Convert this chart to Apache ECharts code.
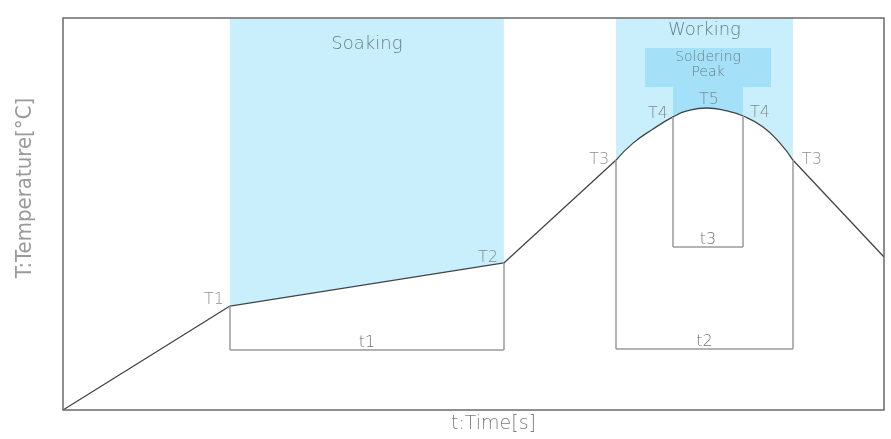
<!DOCTYPE html>
<html>
<head>
<meta charset="utf-8">
<script src="https://cdn.jsdelivr.net/npm/echarts@6/dist/echarts.min.js"></script>
<style>
  html, body { margin: 0; padding: 0; background: #fff; }
  #chart { width: 891px; height: 439px; }
</style>
</head>
<body>
<div id="chart"></div>
<script>
// reflow profile, time in s, temperature in degC (no scale shown)
const rampTime = [0, 61.0, 161.1, 202.1];
const rampTemp = [0, 66.3, 93.8, 159.4];

const peakTime = [202.1, 208.3, 215.6, 222.9, 228.0, 235.3, 242.6, 248.5, 255.8, 262.0, 266.7];
const peakTemp = [159.4, 170.2, 179.2, 186.9, 190.7, 192.6, 190.7, 187.5, 180.5, 170.2, 159.4];

const coolTime = [266.7, 300];
const coolTemp = [159.4, 97.6];

// named points on the curve
const pointNames = ["T1", "T2", "T3", "T4", "T5", "T4", "T3"];
const pointTime = [rampTime[1], rampTime[2], peakTime[0], peakTime[3], peakTime[5], peakTime[7], peakTime[10]];
const pointTemp = [rampTemp[1], rampTemp[2], peakTemp[0], peakTemp[3], peakTemp[5], peakTemp[7], peakTemp[10]];

// soldering peak box
const peakBoxTime = [212.7, 258.7];
const peakBoxTemp = [206.0, 230.9];

// duration dimension lines
const dimNames = ["t1", "t2", "t3"];
const dimFrom = [0, 2, 3]; // index into point arrays
const dimTo = [1, 6, 5];
const dimTemp = [38.3, 38.9, 104.0];

const chart = echarts.init(document.getElementById("chart"));

const textColor = "#737373";
const zoneText = "#6a8087";
const labelFont = "DejaVu Sans";
const thin = 200;

function toXY(times, temps) {
  return times.map((t, i) => [t, temps[i]]);
}

// label placement per named point
const pointLabelPos = [
  { position: "left", distance: 6, offset: [0, -6] },
  { position: "left", distance: 6, offset: [0, -5] },
  { position: "left", distance: 7, offset: [0, 0] },
  { position: "left", distance: 5, offset: [0, -3] },
  { position: "top", distance: 0, offset: [2, 0] },
  { position: "right", distance: 7, offset: [0, -3] },
  { position: "right", distance: 9, offset: [0, 0] },
];

let dimLines = [];
dimNames.forEach((name, i) => {
  const a = dimFrom[i], b = dimTo[i];
  dimLines.push([{ coord: [pointTime[a], pointTemp[a]] }, { coord: [pointTime[a], dimTemp[i]] }]);
  dimLines.push([{ coord: [pointTime[b], pointTemp[b]] }, { coord: [pointTime[b], dimTemp[i]] }]);
  dimLines.push([
    { coord: [pointTime[a], dimTemp[i]], label: { show: true, formatter: name } },
    { coord: [pointTime[b], dimTemp[i]] },
  ]);
});

const curveLine = { color: "#444444", width: 1.3 };
const whiteArea = { color: "#ffffff", opacity: 1, origin: "start" };

let option = {
  backgroundColor: "#ffffff",
  animation: false,
  grid: {
    left: 63,
    top: 18,
    right: 7,
    bottom: 29,
    show: true,
    z: 10,
    backgroundColor: "transparent",
    borderColor: "#6a6a6a",
    borderWidth: 1.5,
  },
  xAxis: {
    type: "value",
    min: 0,
    max: 300,
    name: "t:Time[s]",
    nameLocation: "middle",
    nameGap: 5,
    nameTextStyle: {
      color: "#7d7d7d",
      fontFamily: labelFont,
      fontWeight: thin,
      fontSize: 19,
      verticalAlign: "top",
      padding: [0, 0, 0, 40],
    },
    axisLine: { show: false },
    axisTick: { show: false },
    axisLabel: { show: false },
    splitLine: { show: false },
  },
  yAxis: {
    type: "value",
    min: 0,
    max: 250,
    name: "T:Temperature[°C]",
    nameLocation: "middle",
    nameGap: 27,
    nameTextStyle: {
      color: "#9a9a9a",
      fontFamily: "Liberation Sans Narrow, DejaVu Sans Condensed, sans-serif",
      fontSize: 22,
      padding: [0, 0, 0, 52],
    },
    axisLine: { show: false },
    axisTick: { show: false },
    axisLabel: { show: false },
    splitLine: { show: false },
  },
  series: [
    {
      // zones, only above the curve's entry level so no seams show below it
      type: "line",
      data: [],
      z: 1,
      markArea: {
        silent: true,
        data: [
          [
            {
              xAxis: rampTime[1],
              yAxis: rampTemp[1],
              itemStyle: { color: "#c9eefc" },
              label: { show: true, formatter: "Soaking", position: "insideTop", distance: 17, fontSize: 18, fontWeight: thin, color: zoneText, fontFamily: labelFont },
            },
            { xAxis: rampTime[2], yAxis: "max" },
          ],
          [
            {
              xAxis: peakTime[0],
              yAxis: peakTemp[0],
              itemStyle: { color: "#c9eefc" },
              label: { show: true, formatter: "Working", position: "insideTop", distance: 3, fontSize: 18, fontWeight: thin, color: zoneText, fontFamily: labelFont },
            },
            { xAxis: peakTime[10], yAxis: "max" },
          ],
          [
            {
              coord: [peakBoxTime[0], peakBoxTemp[1]],
              itemStyle: { color: "#a4e0f8" },
              label: { show: true, formatter: "Soldering\nPeak", position: "insideTop", distance: 2, fontSize: 14, lineHeight: 15, fontWeight: thin, color: zoneText, fontFamily: labelFont },
            },
            { coord: [peakBoxTime[1], peakBoxTemp[0]] },
          ],
          [
            { coord: [peakTime[3], peakBoxTemp[0]], itemStyle: { color: "#a4e0f8" } },
            { coord: [peakTime[7], peakTemp[3]] },
          ],
        ],
      },
    },
    {
      type: "line",
      data: toXY(rampTime, rampTemp),
      symbol: "none",
      z: 2,
      lineStyle: curveLine,
      areaStyle: whiteArea,
    },
    {
      type: "line",
      data: toXY(peakTime, peakTemp),
      symbol: "none",
      smooth: 0.5,
      z: 2,
      lineStyle: curveLine,
      areaStyle: whiteArea,
    },
    {
      type: "line",
      data: toXY(coolTime, coolTemp),
      symbol: "none",
      z: 2,
      lineStyle: curveLine,
      areaStyle: whiteArea,
    },
    {
      // dimension lines
      type: "line",
      data: [],
      z: 3,
      markLine: {
        silent: true,
        symbol: "none",
        lineStyle: { color: "#9a9a9a", width: 1.5, type: "solid" },
        label: {
          show: false,
          position: "middle",
          distance: -1,
          color: textColor,
          fontSize: 16,
          fontWeight: thin,
          fontFamily: labelFont,
        },
        emphasis: { disabled: true },
        data: dimLines,
      },
    },
    {
      // point names
      type: "scatter",
      symbolSize: 0,
      z: 4,
      data: pointNames.map((name, i) => ({
        value: [pointTime[i], pointTemp[i]],
        name: name,
        label: pointLabelPos[i],
      })),
      label: {
        show: true,
        formatter: "{b}",
        color: textColor,
        fontSize: 16,
        fontWeight: thin,
        fontFamily: labelFont,
      },
    },
  ],
};

chart.setOption(option);
</script>
</body>
</html>
